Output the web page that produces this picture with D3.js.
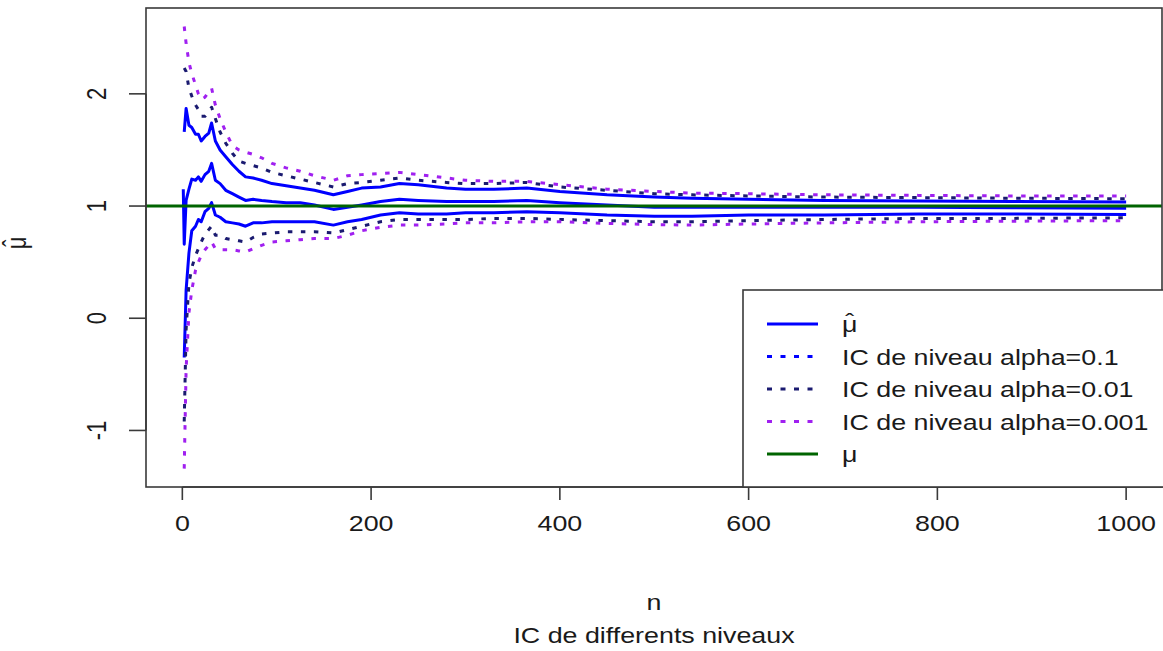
<!DOCTYPE html>
<html>
<head>
<meta charset="utf-8">
<script src="https://cdn.jsdelivr.net/npm/d3@7"></script>
<style>
  body { margin: 0; background: #fff; }
  text { font-family: "Liberation Sans", Arial, Helvetica, sans-serif; fill: #1a1a1a; }
</style>
</head>
<body>
<svg id="chart" width="1163" height="651"></svg>
<script>
// valeurs (n, moyenne empirique, bornes des IC)
var nValues = [1, 2, 4, 7, 10, 14, 17, 20, 24, 28, 31, 35, 40, 46, 53, 60, 67, 75, 84, 95, 110, 125, 140, 160, 175, 190, 210, 230, 250, 280, 300, 330, 365, 400, 450, 500, 540, 600, 680, 780, 880, 1000];
var muHat = [1.15, 0.66, 1.05, 1.15, 1.24, 1.23, 1.26, 1.22, 1.28, 1.31, 1.38, 1.23, 1.20, 1.14, 1.11, 1.08, 1.05, 1.06, 1.05, 1.04, 1.03, 1.03, 1.01, 0.97, 0.99, 1.01, 1.04, 1.06, 1.05, 1.04, 1.04, 1.04, 1.05, 1.03, 1.01, 0.99, 0.99, 0.99, 0.99, 0.99, 0.985, 0.98];
// alpha = 0.1
var hi10 = [null, 1.66, 1.87, 1.72, 1.70, 1.64, 1.64, 1.58, 1.62, 1.65, 1.74, 1.58, 1.50, 1.44, 1.37, 1.31, 1.26, 1.25, 1.23, 1.20, 1.18, 1.16, 1.14, 1.10, 1.13, 1.16, 1.17, 1.20, 1.19, 1.16, 1.15, 1.15, 1.16, 1.13, 1.10, 1.08, 1.07, 1.06, 1.05, 1.045, 1.04, 1.035];
var lo10 = [null, -0.35, 0.25, 0.58, 0.78, 0.82, 0.88, 0.86, 0.95, 0.98, 1.03, 0.92, 0.90, 0.86, 0.85, 0.84, 0.82, 0.85, 0.85, 0.86, 0.86, 0.86, 0.86, 0.83, 0.86, 0.88, 0.92, 0.94, 0.93, 0.93, 0.94, 0.94, 0.95, 0.94, 0.92, 0.91, 0.91, 0.92, 0.92, 0.93, 0.93, 0.925];
// alpha = 0.01
var hi01 = [null, 2.23, 2.20, 2.05, 1.98, 1.90, 1.86, 1.80, 1.80, 1.84, 1.88, 1.78, 1.66, 1.56, 1.47, 1.40, 1.38, 1.36, 1.34, 1.30, 1.27, 1.24, 1.21, 1.17, 1.20, 1.21, 1.23, 1.25, 1.23, 1.21, 1.20, 1.20, 1.21, 1.17, 1.14, 1.11, 1.10, 1.09, 1.08, 1.075, 1.07, 1.065];
var lo01 = [null, -0.92, -0.10, 0.31, 0.45, 0.56, 0.62, 0.68, 0.75, 0.79, 0.82, 0.74, 0.74, 0.71, 0.70, 0.69, 0.68, 0.72, 0.75, 0.76, 0.77, 0.77, 0.77, 0.76, 0.79, 0.82, 0.86, 0.88, 0.88, 0.88, 0.88, 0.89, 0.89, 0.88, 0.87, 0.86, 0.86, 0.87, 0.88, 0.89, 0.89, 0.895];
// alpha = 0.001
var hi001 = [null, 2.60, 2.45, 2.28, 2.18, 2.08, 2.00, 1.95, 1.97, 2.02, 2.05, 1.90, 1.78, 1.66, 1.54, 1.50, 1.48, 1.46, 1.43, 1.38, 1.34, 1.31, 1.27, 1.23, 1.27, 1.28, 1.29, 1.30, 1.28, 1.25, 1.23, 1.22, 1.22, 1.19, 1.15, 1.13, 1.115, 1.11, 1.10, 1.095, 1.09, 1.09];
var lo001 = [null, -1.34, -0.45, 0.05, 0.25, 0.43, 0.50, 0.56, 0.61, 0.65, 0.68, 0.62, 0.61, 0.61, 0.61, 0.60, 0.59, 0.62, 0.65, 0.68, 0.69, 0.70, 0.71, 0.71, 0.74, 0.78, 0.81, 0.83, 0.83, 0.84, 0.85, 0.85, 0.86, 0.86, 0.845, 0.835, 0.83, 0.84, 0.85, 0.86, 0.865, 0.87];
var muTrue = 1;

var xTicks = [0, 200, 400, 600, 800, 1000];
var yTicks = [-1, 0, 1, 2];
var legendLabels = ["\u03bc", "IC de niveau alpha=0.1", "IC de niveau alpha=0.01", "IC de niveau alpha=0.001", "\u03bc"];
var legendHat = [true, false, false, false, false];

var svg = d3.select("#chart");
var pLeft = 146, pRight = 1162, pTop = 8, pBottom = 487;
var sx = 1.22; // le png d'origine est etire en largeur
var fs = 22;

var x = d3.scaleLinear().domain([-38.5, 1038]).range([pLeft, pRight]);
var y = d3.scaleLinear().domain([-1.504, 2.765]).range([pBottom, pTop]);

svg.append("defs").append("clipPath").attr("id", "clip")
  .append("rect")
  .attr("x", pLeft).attr("y", pTop)
  .attr("width", pRight - pLeft).attr("height", pBottom - pTop);

var plot = svg.append("g").attr("clip-path", "url(#clip)");

function lineOf(vals) {
  return d3.line()
    .defined(function (i) { return vals[i] != null; })
    .x(function (i) { return x(nValues[i]); })
    .y(function (i) { return y(vals[i]); });
}
var idx = d3.range(nValues.length);

function drawSeries(vals, color, dash, width) {
  plot.append("path")
    .datum(idx)
    .attr("d", lineOf(vals))
    .attr("fill", "none")
    .attr("stroke", color)
    .attr("stroke-width", width)
    .attr("stroke-linejoin", "round")
    .attr("stroke-dasharray", dash);
}

drawSeries(muHat, "#0000ff", null, 3);
drawSeries(hi10, "#0000ff", null, 3);
drawSeries(lo10, "#0000ff", null, 3);
drawSeries(hi01, "#1a1a70", "4.5,8.5", 3);
drawSeries(lo01, "#1a1a70", "4.5,8.5", 3);
drawSeries(hi001, "#a020f0", "4.5,8.5", 3);
drawSeries(lo001, "#a020f0", "4.5,8.5", 3);

// vraie valeur mu
plot.append("line")
  .attr("x1", pLeft).attr("x2", pRight)
  .attr("y1", y(muTrue)).attr("y2", y(muTrue))
  .attr("stroke", "#006400")
  .attr("stroke-width", 3);

// cadre
svg.append("rect")
  .attr("x", pLeft).attr("y", pTop)
  .attr("width", pRight - pLeft).attr("height", pBottom - pTop)
  .attr("fill", "none")
  .attr("stroke", "#3a3a3a")
  .attr("stroke-width", 1.6);

// axe x
svg.append("line")
  .attr("x1", x(xTicks[0])).attr("x2", x(xTicks[xTicks.length - 1]))
  .attr("y1", pBottom).attr("y2", pBottom)
  .attr("stroke", "#3a3a3a").attr("stroke-width", 1.6);
svg.selectAll(".xtick").data(xTicks).enter().append("line")
  .attr("x1", function (d) { return x(d); }).attr("x2", function (d) { return x(d); })
  .attr("y1", pBottom).attr("y2", pBottom + 13)
  .attr("stroke", "#3a3a3a").attr("stroke-width", 1.6);
svg.selectAll(".xlab").data(xTicks).enter().append("text")
  .attr("transform", function (d) { return "translate(" + x(d) + ",531) scale(" + sx + ",1)"; })
  .attr("text-anchor", "middle")
  .attr("font-size", fs)
  .text(function (d) { return d; });

// axe y
svg.append("line")
  .attr("x1", pLeft).attr("x2", pLeft)
  .attr("y1", y(yTicks[0])).attr("y2", y(yTicks[yTicks.length - 1]))
  .attr("stroke", "#3a3a3a").attr("stroke-width", 1.6);
svg.selectAll(".ytick").data(yTicks).enter().append("line")
  .attr("x1", pLeft - 17).attr("x2", pLeft)
  .attr("y1", function (d) { return y(d); }).attr("y2", function (d) { return y(d); })
  .attr("stroke", "#3a3a3a").attr("stroke-width", 1.6);
svg.selectAll(".ylab").data(yTicks).enter().append("text")
  .attr("transform", function (d) { return "translate(106," + y(d) + ") scale(" + sx + ",1) rotate(-90)"; })
  .attr("text-anchor", "middle")
  .attr("font-size", fs)
  .text(function (d) { return d; });

// mu chapeau : un seul texte, le chapeau recule au-dessus du mu
function muHatText(g, anchor) {
  var t = g.append("text")
    .attr("text-anchor", anchor)
    .attr("font-size", fs);
  t.append("tspan").text("\u03bc");
  t.append("tspan").attr("dx", -10).attr("dy", -3).text("\u02c6");
}

// titres des axes
muHatText(svg.append("g").attr("transform", "translate(26,243) scale(" + sx + ",1) rotate(-90)"), "middle");
svg.append("text")
  .attr("transform", "translate(" + (pLeft + pRight) / 2 + ",610) scale(" + sx + ",1)")
  .attr("text-anchor", "middle")
  .attr("font-size", fs)
  .text("n");
svg.append("text")
  .attr("transform", "translate(" + (pLeft + pRight) / 2 + ",643) scale(" + sx + ",1)")
  .attr("text-anchor", "middle")
  .attr("font-size", fs)
  .text("IC de differents niveaux");

// legende
var leg = svg.append("g");
leg.append("rect")
  .attr("x", 743).attr("y", 290)
  .attr("width", 440).attr("height", pBottom - 290)
  .attr("fill", "#fff")
  .attr("stroke", "#3a3a3a")
  .attr("stroke-width", 1.6);
var legColors = ["#0000ff", "#0000ff", "#1a1a70", "#a020f0", "#006400"];
var legDash = [null, "5,8.5", "5,8.5", "5,8.5", null];
legendLabels.forEach(function (lab, i) {
  var ly = 324 + i * 32.5;
  leg.append("line")
    .attr("x1", 767).attr("x2", 818)
    .attr("y1", ly).attr("y2", ly)
    .attr("stroke", legColors[i])
    .attr("stroke-width", 3)
    .attr("stroke-dasharray", legDash[i]);
  var tg = leg.append("g")
    .attr("transform", "translate(842," + (ly + 8) + ") scale(" + sx + ",1)");
  if (legendHat[i]) {
    muHatText(tg, "start");
  } else {
    tg.append("text").attr("font-size", fs).text(lab);
  }
});
</script>
</body>
</html>
